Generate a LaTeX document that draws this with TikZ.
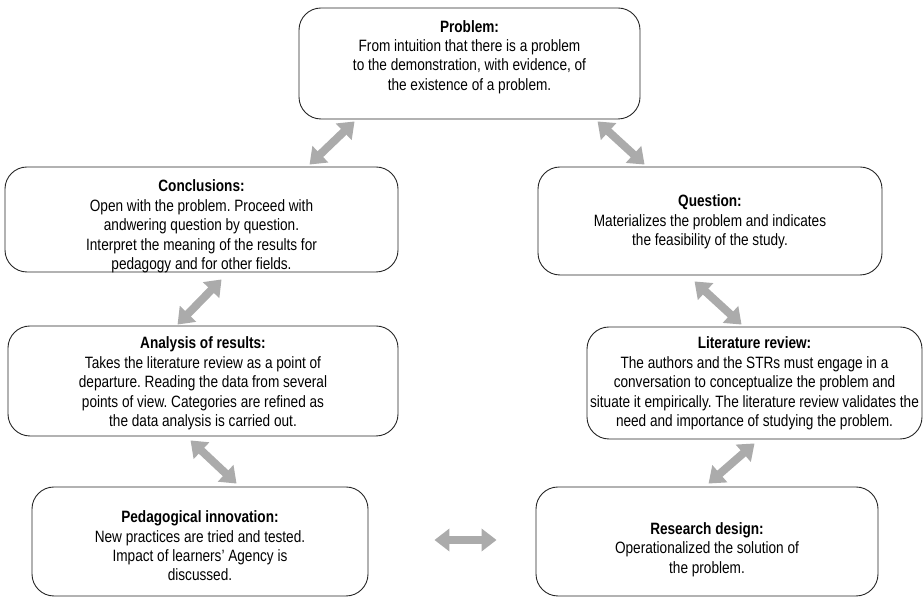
\documentclass[tikz,border=0pt]{standalone}
\usepackage{fontspec}
\setmainfont{Liberation Sans}[FakeStretch=0.83]
\usetikzlibrary{arrows.meta,calc}
\frenchspacing
\begin{document}
\begin{tikzpicture}[x=1bp,y=1bp,
  box/.style={draw=black!85, line width=0.9bp, rounded corners=22bp, inner sep=0pt},
  txt/.style={align=center, inner sep=0pt, font=\fontsize{16.4bp}{19.4bp}\selectfont},
  dblarrow/.style={draw=black!33, line width=8bp, {Triangle[length=15bp,width=22bp]}-{Triangle[length=15bp,width=22bp]}}]
\useasboundingbox (0,0) rectangle (924,598);
% boxes
\node[box, minimum width=341bp, minimum height=111bp] (prob) at (469.5,534.5) {};
\node[box, minimum width=393bp, minimum height=105bp] (concl) at (201.5,378.5) {};
\node[box, minimum width=344bp, minimum height=108bp] (quest) at (710,377) {};
\node[box, minimum width=390bp, minimum height=110bp] (anal) at (203,217) {};
\node[box, minimum width=335bp, minimum height=112bp] (lit) at (754.5,215) {};
\node[box, minimum width=336bp, minimum height=109bp] (ped) at (200,56.5) {};
\node[box, minimum width=342bp, minimum height=109bp] (res) at (707,56.5) {};
% texts
\node[txt] (probT) at (469.5,541) {\textbf{Problem:}\\From intuition that there is a problem\\to the demonstration, with evidence, of\\the existence of a problem.};
\node[txt] (conclT) at (201.5,371.5) {\textbf{Conclusions:}\\Open with the problem. Proceed with\\andwering question by question.\\Interpret the meaning of the results for\\pedagogy and for other fields.};
\node[txt] (questT) at (710,376) {\textbf{Question:}\\Materializes the problem and indicates\\the feasibility of the study.};
\node[txt] (analT) at (203,214.5) {\textbf{Analysis of results:}\\Takes the literature review as a point of\\departure. Reading the data from several\\points of view. Categories are refined as\\the data analysis is carried out.};
\node[txt] (litT) at (754.5,214.5) {\textbf{Literature review:}\\The authors and the STRs must engage in a\\conversation to conceptualize the problem and\\situate it empirically. The literature review validates the\\need and importance of studying the problem.};
\node[txt] (pedT) at (200,52) {\textbf{Pedagogical innovation:}\\New practices are tried and tested.\\Impact of learners' Agency is\\discussed.};
\node[txt] (resT) at (707,48.5) {\textbf{Research design:}\\Operationalized the solution of\\the problem.};
% arrows
\draw[dblarrow] ([shift={(56,-2)}]prob.south west) -- ([shift={(305,2)}]concl.north west);
\draw[dblarrow] ([shift={(299,-2)}]prob.south west) -- ([shift={(107,2)}]quest.north west);
\draw[dblarrow] ([shift={(217,-7)}]concl.south west) -- ([shift={(170,1)}]anal.north west);
\draw[dblarrow] ([shift={(157,-6)}]quest.south west) -- ([shift={(155,2)}]lit.north west);
\draw[dblarrow] ([shift={(183,-4)}]anal.south west) -- ([shift={(205,3)}]ped.north west);
\draw[dblarrow] ([shift={(168,-4)}]lit.south west) -- ([shift={(173,3)}]res.north west);
\draw[dblarrow] ([shift={(66,1.5)}]ped.east) -- ([shift={(-39,1.5)}]res.west);
\end{tikzpicture}
\end{document}
